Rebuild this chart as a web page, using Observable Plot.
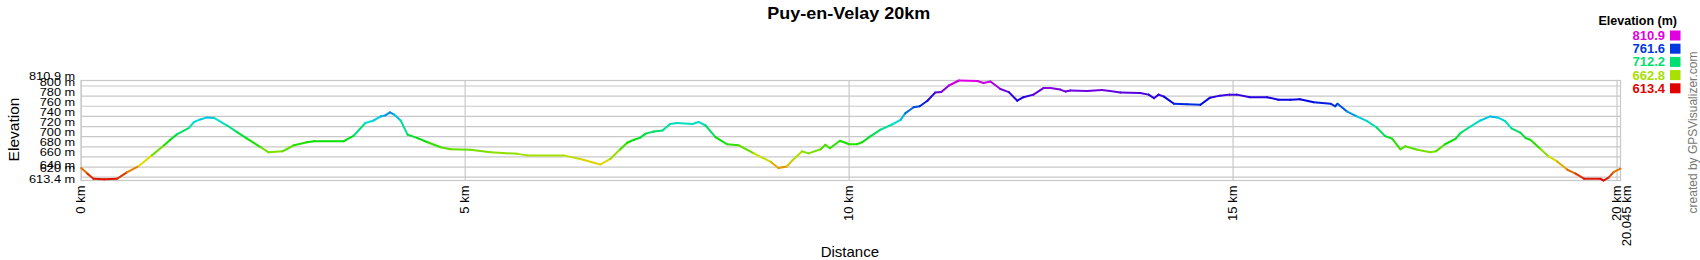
<!DOCTYPE html>
<html><head><meta charset="utf-8">
<script src="https://cdn.jsdelivr.net/npm/d3@7"></script>
<script src="https://cdn.jsdelivr.net/npm/@observablehq/plot@0.6"></script>
<style>
html,body{margin:0;padding:0;background:#fff;}
#chart svg{display:block;}
</style></head><body><div id="chart"></div>
<script>
const titleText = "Puy-en-Velay 20km";
const xLabel = "Distance";
const yLabel = "Elevation";
const credit = "created by GPSVisualizer.com";
const legendTitle = "Elevation (m)";
const legendValues = [810.9, 761.6, 712.2, 662.8, 613.4];
const yTicks = [613.4, 620, 640, 660, 680, 700, 720, 740, 760, 780, 800, 810.9];
const xTicks = [0, 5, 10, 15, 20];
const totalKm = 20.045;
const elevMin = 613.4, elevMax = 810.9;

const distanceKm = [0.00,0.08,0.16,0.30,0.47,0.60,0.75,0.92,1.08,1.16,1.25,1.40,1.47,1.55,1.64,1.73,1.90,2.03,2.16,2.34,2.44,2.62,2.77,2.94,3.03,3.42,3.55,3.70,3.81,3.90,3.96,4.02,4.07,4.16,4.25,4.38,4.51,4.68,4.81,5.07,5.33,5.68,5.81,6.28,6.50,6.76,6.89,7.02,7.11,7.20,7.28,7.35,7.46,7.57,7.67,7.76,7.96,8.04,8.13,8.26,8.41,8.56,8.76,8.98,9.08,9.19,9.26,9.39,9.47,9.63,9.69,9.75,9.88,10.00,10.10,10.17,10.28,10.41,10.56,10.67,10.73,10.84,10.92,11.02,11.12,11.20,11.30,11.43,11.67,11.75,11.84,11.97,12.08,12.19,12.27,12.40,12.53,12.62,12.75,12.82,12.88,13.10,13.29,13.40,13.53,13.79,13.90,13.97,14.03,14.10,14.23,14.40,14.575,14.70,14.83,14.95,15.05,15.22,15.44,15.59,15.75,15.87,16.05,16.27,16.33,16.36,16.48,16.61,16.74,16.87,16.98,17.07,17.18,17.24,17.40,17.57,17.64,17.76,17.90,17.96,18.09,18.22,18.35,18.44,18.54,18.63,18.74,18.81,18.87,19.00,19.11,19.22,19.35,19.46,19.57,19.78,19.825,19.89,19.955,20.045];
const elevationM = [638,627,617,616,617,630,642,663,683,694,705,717,729,734,738,737,722,709,696,679,669,671,683,689,691,691,702,727,732,740,742,748,744,732,704,697,689,679,675,674,669,666,663,663,656,645,656,675,688,694,698,706,710,712,725,727,725,729,722,699,685,683,667,650,638,641,653,671,667,675,684,677,692,685,685,689,701,714,724,733,746,758,760,771,787,788,801,810.9,810,806,809,794,788,771,778,783,796,796,793,789,791,790,792,790,787,786,783,776,783,779,765,764,763,777,781,783,783,778,778,773,773,774,768,765,760,765,750,740,731,718,701,696,675,681,674,669,671,685,696,707,720,732,740,738,731,716,708,697,694,676,661,651,635,627,617,617,613.4,619,630,637];

const segments = distanceKm.slice(1).map((k, i) => ({
  x1: distanceKm[i], y1: elevationM[i], x2: k, y2: elevationM[i + 1],
  e: (elevationM[i] + elevationM[i + 1]) / 2
}));

const font = "'Liberation Sans', Arial, Helvetica, sans-serif";
const grid = "#c8c8c8";

const chart = Plot.plot({
  width: 1700, height: 260,
  marginLeft: 80.7, marginRight: 80, marginTop: 80, marginBottom: 80,
  style: {fontFamily: font, background: "#fff", color: "#000", overflow: "visible"},
  x: {domain: [0, totalKm]},
  y: {domain: [elevMin, elevMax]},
  color: {type: "linear", domain: [elevMin, elevMax], interpolate: t => d3.hsl(300 * t, 1, 0.44).toString()},
  marks: [
    Plot.ruleY(yTicks, {stroke: grid, strokeWidth: 1.2}),
    Plot.ruleX(xTicks, {stroke: grid, strokeWidth: 1.2}),
    Plot.frame({stroke: grid, strokeWidth: 1.2}),
    Plot.link(segments, {x1: "x1", y1: "y1", x2: "x2", y2: "y2", stroke: "e", strokeWidth: 2, strokeLinecap: "round"}),
    Plot.axisY(yTicks, {tickSize: 0, tickPadding: 6, dy: -4, tickFormat: d => `${d} m`, fontSize: 12.8, label: null, className: "ylab"}),
    Plot.axisX(xTicks, {tickSize: 0, tickPadding: 5, tickFormat: d => `${d} km`, rotate: -90, textAnchor: "end", lineAnchor: "middle", fontSize: 13, label: null}),
    Plot.text([totalKm], {x: d => d, frameAnchor: "bottom", text: d => `${d} km`, rotate: -90, textAnchor: "end", lineAnchor: "middle", dy: 5, dx: 6.5, fontSize: 13}),
    Plot.text([titleText], {frameAnchor: "top", dy: -67, dx: -2, lineAnchor: "middle", text: d => d, fontSize: 18, fontWeight: "bold", className: "ttl"}),
    Plot.text([yLabel], {frameAnchor: "left", dx: -67, dy: -1, rotate: -90, textAnchor: "middle", lineAnchor: "middle", text: d => d, fontSize: 15.5}),
    Plot.text([xLabel], {frameAnchor: "bottom", dy: 72, dx: -1, lineAnchor: "middle", text: d => d, fontSize: 15}),
    Plot.text([credit], {frameAnchor: "right", dx: 73, dy: 2, rotate: -90, textAnchor: "middle", lineAnchor: "middle", text: d => d, fontSize: 12, fill: "#777"})
  ]
});

document.getElementById("chart").appendChild(chart);
const svg = d3.select(chart.tagName.toLowerCase() === "svg" ? chart : chart.querySelector("svg"));

function squash(sel, s) {
  sel.each(function () {
    const t = this.getAttribute("transform") || "";
    const x = +this.getAttribute("x") || 0;
    const y = +this.getAttribute("y") || 0;
    let shift = 0;
    const txt = this.textContent;
    if (txt === "620 m") shift = -5;
    if (txt === "640 m") shift = 2;
    if (txt === "613.4 m") shift = 3;
    this.setAttribute("transform", `${t} translate(0,${shift}) translate(${x},${y}) scale(1,${s}) translate(${-x},${-y})`);
  });
}
squash(svg.selectAll(".ylab text, g[aria-label='y-axis tick label'] text"), 0.85);
squash(svg.selectAll(".ttl text"), 0.9);

// legend
const colorScale = chart.scale("color");
const lg = svg.append("g").attr("font-family", font);
lg.append("text").attr("x", 1677).attr("y", 25).attr("text-anchor", "end")
  .attr("font-weight", "bold").attr("font-size", 12.5).attr("fill", "#000").text(legendTitle);
legendValues.forEach((v, i) => {
  const by = 40 + i * 13.2;
  const c = colorScale.apply(v);
  lg.append("text").attr("x", 1665).attr("y", by).attr("text-anchor", "end")
    .attr("font-weight", "bold").attr("font-size", 13).attr("fill", c).text(v.toFixed(1));
  lg.append("rect").attr("x", 1670).attr("y", by - 9.5).attr("width", 10.5).attr("height", 10).attr("fill", c);
});
</script></body></html>
